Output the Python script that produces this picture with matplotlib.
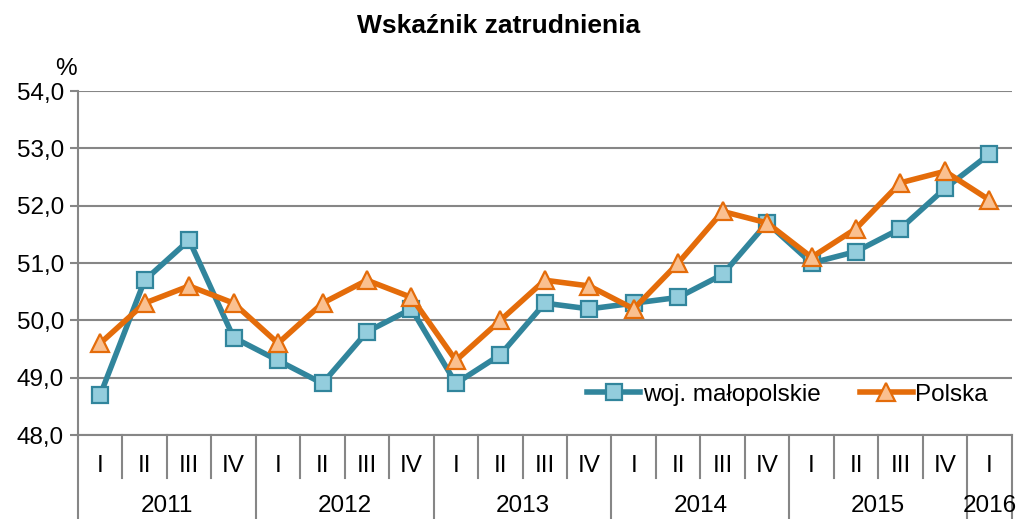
import matplotlib.pyplot as plt

plt.rcParams['font.family'] = ['Liberation Sans', 'DejaVu Sans']

quarters = ['I', 'II', 'III', 'IV'] * 5 + ['I']
years = ['2011', '2012', '2013', '2014', '2015', '2016']
malopolskie = [48.7, 50.7, 51.4, 49.7, 49.3, 48.9, 49.8, 50.2, 48.9, 49.4, 50.3,
               50.2, 50.3, 50.4, 50.8, 51.7, 51.0, 51.2, 51.6, 52.3, 52.9]
polska = [49.6, 50.3, 50.6, 50.3, 49.6, 50.3, 50.7, 50.4, 49.3, 50.0, 50.7,
          50.6, 50.2, 51.0, 51.9, 51.7, 51.1, 51.6, 52.4, 52.6, 52.1]

grid_c = '#868686'
fs = 17.5
fig = plt.figure(figsize=(10.17, 5.19), dpi=100)
ax = fig.add_axes([0.0767, 0.1618, 0.918, 0.6628])

x = list(range(len(quarters)))
ax.plot(x, malopolskie, color='#31859C', lw=4, marker='s', ms=11,
        mfc='#93CDDD', mec='#31859C', mew=1.6, label='woj. małopolskie', zorder=3)
ax.plot(x, polska, color='#E46C0A', lw=4, marker='^', ms=13,
        mfc='#FAC090', mec='#E46C0A', mew=1.6, label='Polska', zorder=4)

ax.set_xlim(-0.5, len(quarters) - 0.5)
ax.set_ylim(48, 54)
ax.set_yticks([48, 49, 50, 51, 52, 53, 54])
ax.set_yticklabels([f'{v},0' for v in range(48, 55)], fontsize=fs)
ax.yaxis.grid(True, color=grid_c, lw=1.5)
ax.set_axisbelow(True)
ax.tick_params(axis='y', length=6, width=1.5, color=grid_c, pad=4)
ax.set_xticks([])
for s in ['top', 'right']:
    ax.spines[s].set_visible(False)
for s in ['left', 'bottom']:
    ax.spines[s].set_color(grid_c)
    ax.spines[s].set_linewidth(1.5)

# category axis: quarters and years
tr = ax.get_xaxis_transform()
for i, q in enumerate(quarters):
    ax.text(i, -0.09, q, transform=tr, ha='center', va='center', fontsize=fs)
for i in range(len(quarters) + 1):
    bottom = -0.26 if i % 4 == 0 or i == len(quarters) else -0.125
    ax.plot([i - 0.5, i - 0.5], [0, bottom], transform=tr, color=grid_c,
            lw=1.5, clip_on=False)
for k, yr in enumerate(years):
    start = k * 4 - 0.5
    end = min(k * 4 + 3.5, len(quarters) - 0.5)
    xc = (start + end) / 2
    if yr == '2016':
        xc = end - 0.48
    ax.text(xc, -0.205, yr, transform=tr, ha='center', va='center', fontsize=fs)

ax.text(-0.013, 1.065, '%', transform=ax.transAxes, ha='center', va='center',
        fontsize=fs)
fig.text(0.49, 0.95, 'Wskaźnik zatrudnienia', ha='center', va='center',
         fontsize=19, fontweight='bold')

ax.legend(loc='center', bbox_to_anchor=(0.76, 0.117), ncol=2, frameon=False,
          fontsize=fs, handlelength=2.2, handletextpad=0.1, columnspacing=1.6)

fig.savefig('out.png', dpi=100)
